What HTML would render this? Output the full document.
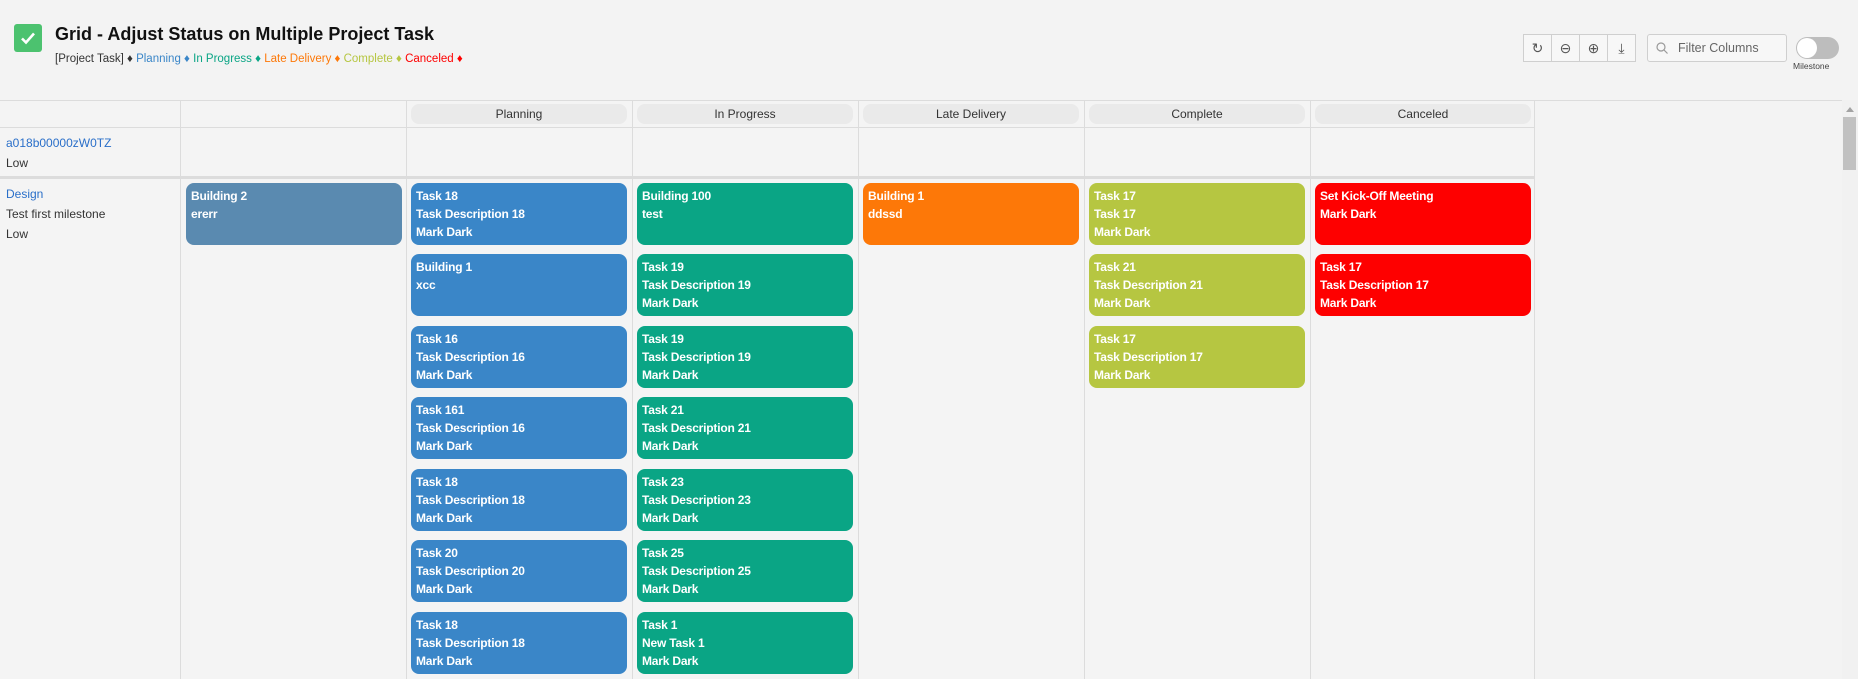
<!DOCTYPE html>
<html><head><meta charset="utf-8"><style>
*{margin:0;padding:0;box-sizing:border-box}
body{width:1858px;height:679px;overflow:hidden;background:#f3f3f3;font-family:"Liberation Sans",sans-serif;position:relative}
.a{position:absolute}
.vl{position:absolute;top:100px;bottom:0;width:1px;background:#dcdcdc}
.hl{position:absolute;left:0;width:1534px;height:1px;background:#dcdcdc}
.pill{position:absolute;top:104px;height:20px;background:#eaeaea;border-radius:8px;font-size:12px;color:#333;text-align:center;line-height:20px}
.c{position:absolute;width:216px;height:62px;border-radius:8px;color:#fff;font-weight:bold;font-size:12px;line-height:18px;padding:4px 5px;letter-spacing:-0.2px}
.p{background:#3a86c8}.g{background:#0aa585}.o{background:#fd7808}.y{background:#b6c641}.r{background:#fe0000}
.btn{position:absolute;top:34px;width:29px;height:28px;border:1px solid #cfcfcf;background:#f7f7f7;color:#555;font-size:14px;text-align:center;line-height:26px}
</style></head><body>
<div class="a" style="left:14px;top:24px;width:28px;height:28px;background:#4cc26f;border-radius:3px"></div>
<svg class="a" style="left:14px;top:24px" width="28" height="28"><path d="M8 14.5l4 4 8-9" stroke="#fff" stroke-width="2.6" fill="none"/></svg>
<div class="a" style="left:55px;top:24px;font-size:18px;font-weight:bold;color:#111">Grid - Adjust Status on Multiple Project Task</div>
<div class="a" style="left:55px;top:53px;font-size:11.5px;color:#333">[Project Task] ♦ <span style="color:#3a86c8">Planning</span> <span style="color:#3a86c8">♦</span> <span style="color:#0aa585">In Progress ♦</span> <span style="color:#fd7808">Late Delivery ♦</span> <span style="color:#b6c641">Complete ♦</span> <span style="color:#fe0000">Canceled ♦</span></div>

<div class="btn" style="left:1523px">↻</div><div class="btn" style="left:1551px">⊖</div><div class="btn" style="left:1579px">⊕</div><div class="btn" style="left:1607px">⤓</div>
<div class="a" style="left:1647px;top:34px;width:140px;height:28px;border:1px solid #cfcfcf;border-radius:3px;background:#f7f7f7;font-size:12.5px;color:#666;line-height:26px;padding-left:30px">Filter Columns</div>
<svg class="a" style="left:1656px;top:42px" width="12" height="12"><circle cx="5" cy="5" r="4" stroke="#999" fill="none" stroke-width="1.2"/><path d="M8 8l3.5 3.5" stroke="#999" stroke-width="1.2"/></svg>
<div class="a" style="left:1796px;top:37px;width:43px;height:22px;border-radius:11px;background:#bdbdbd"></div>
<div class="a" style="left:1797px;top:38px;width:20px;height:20px;border-radius:10px;background:#fff"></div>
<div class="a" style="left:1793px;top:61px;font-size:8.5px;color:#444">Milestone</div>

<div class="a" style="left:0;top:100px;width:1534px;height:579px;background:#f4f4f4"></div>
<div class="hl" style="top:100px;width:1842px"></div>
<div class="hl" style="top:127px"></div>
<div class="hl" style="top:176px;height:3px"></div>
<div class="vl" style="left:180px"></div><div class="vl" style="left:406px"></div><div class="vl" style="left:632px"></div><div class="vl" style="left:858px"></div><div class="vl" style="left:1084px"></div><div class="vl" style="left:1310px"></div><div class="vl" style="left:1534px"></div>

<div class="pill" style="left:411px;width:216px">Planning</div>
<div class="pill" style="left:637px;width:216px">In Progress</div>
<div class="pill" style="left:863px;width:216px">Late Delivery</div>
<div class="pill" style="left:1089px;width:216px">Complete</div>
<div class="pill" style="left:1315px;width:216px">Canceled</div>

<div class="a" style="left:6px;top:136px;font-size:12px;color:#2a6fc9">a018b00000zW0TZ</div>
<div class="a" style="left:6px;top:156px;font-size:12px;color:#333">Low</div>
<div class="a" style="left:6px;top:187px;font-size:12px;color:#2a6fc9">Design</div>
<div class="a" style="left:6px;top:207px;font-size:12px;color:#333">Test first milestone</div>
<div class="a" style="left:6px;top:227px;font-size:12px;color:#333">Low</div>

<div class="c" style="left:186px;top:183px;background:#5a8ab0">Building 2<br>ererr</div>

<div class="c p" style="left:411px;top:183px">Task 18<br>Task Description 18<br>Mark Dark</div>
<div class="c p" style="left:411px;top:254px">Building 1<br>xcc</div>
<div class="c p" style="left:411px;top:326px">Task 16<br>Task Description 16<br>Mark Dark</div>
<div class="c p" style="left:411px;top:397px">Task 161<br>Task Description 16<br>Mark Dark</div>
<div class="c p" style="left:411px;top:469px">Task 18<br>Task Description 18<br>Mark Dark</div>
<div class="c p" style="left:411px;top:540px">Task 20<br>Task Description 20<br>Mark Dark</div>
<div class="c p" style="left:411px;top:612px">Task 18<br>Task Description 18<br>Mark Dark</div>

<div class="c g" style="left:637px;top:183px">Building 100<br>test</div>
<div class="c g" style="left:637px;top:254px">Task 19<br>Task Description 19<br>Mark Dark</div>
<div class="c g" style="left:637px;top:326px">Task 19<br>Task Description 19<br>Mark Dark</div>
<div class="c g" style="left:637px;top:397px">Task 21<br>Task Description 21<br>Mark Dark</div>
<div class="c g" style="left:637px;top:469px">Task 23<br>Task Description 23<br>Mark Dark</div>
<div class="c g" style="left:637px;top:540px">Task 25<br>Task Description 25<br>Mark Dark</div>
<div class="c g" style="left:637px;top:612px">Task 1<br>New Task 1<br>Mark Dark</div>

<div class="c o" style="left:863px;top:183px">Building 1<br>ddssd</div>

<div class="c y" style="left:1089px;top:183px">Task 17<br>Task 17<br>Mark Dark</div>
<div class="c y" style="left:1089px;top:254px">Task 21<br>Task Description 21<br>Mark Dark</div>
<div class="c y" style="left:1089px;top:326px">Task 17<br>Task Description 17<br>Mark Dark</div>

<div class="c r" style="left:1315px;top:183px">Set Kick-Off Meeting<br>Mark Dark</div>
<div class="c r" style="left:1315px;top:254px">Task 17<br>Task Description 17<br>Mark Dark</div>

<div class="a" style="left:1842px;top:100px;width:16px;height:579px;background:#f1f1f1"></div>
<div class="a" style="left:1846px;top:107px;width:0;height:0;border-left:4px solid transparent;border-right:4px solid transparent;border-bottom:5px solid #a3a3a3"></div>
<div class="a" style="left:1843px;top:117px;width:13px;height:53px;background:#c1c1c1"></div>
</body></html>
